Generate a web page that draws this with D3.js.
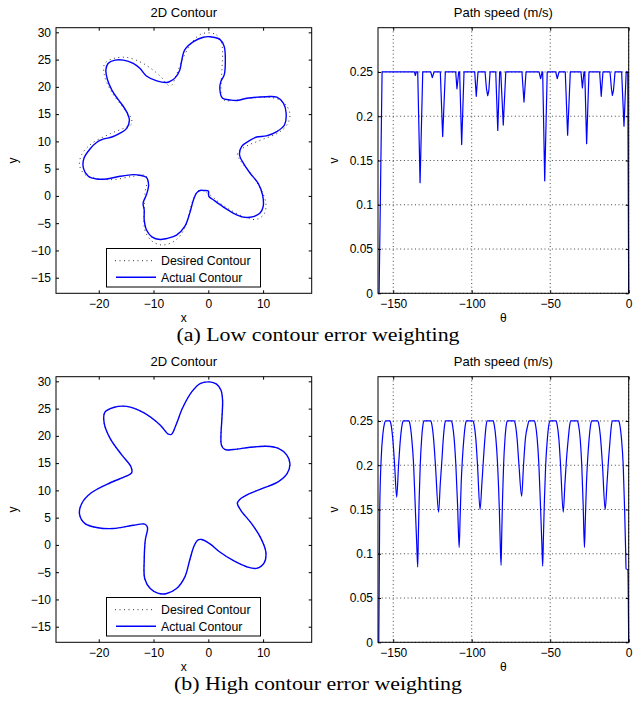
<!DOCTYPE html>
<html>
<head>
<meta charset="utf-8">
<script src="https://cdn.jsdelivr.net/npm/d3@7"></script>
<style>
  body { margin: 0; background: #fff; }
  svg text { fill: #000; }
</style>
</head>
<body>
<svg id="fig" width="644" height="704"></svg>
<script>
// ---- data ----
const contourXTicks = [-20, -10, 0, 10];
const contourYTicks = [-15, -10, -5, 0, 5, 10, 15, 20, 25, 30];
const speedXTicks = [-150, -100, -50, 0];
const speedYTicks = [0, 0.05, 0.1, 0.15, 0.2, 0.25];
const legendLabels = ["Desired Contour", "Actual Contour"];
const captions = ["(a) Low contour error weighting", "(b) High contour error weighting"];

// desired star contour [x, y]
const desiredContour = [
  [0.2,29.9],[1.5,29.5],[2.3,28.4],[2.6,26.6],[2.5,23.5],[2.3,19.8],[2.4,18.3],[3.0,17.5],
  [4.6,17.5],[7.6,17.9],[10.6,18.1],[12.8,17.7],[14.3,16.5],[14.9,14.9],[14.4,13.1],[12.8,11.6],
  [10.0,10.4],[7.3,9.3],[5.7,8.3],[5.3,7.6],[5.9,6.4],[7.9,3.9],[9.6,1.2],[10.5,-1.3],
  [10.2,-3.3],[8.8,-4.3],[7.0,-4.0],[4.6,-2.9],[2.1,-1.3],[0.3,0.2],[-1.2,1.0],[-1.9,0.9],
  [-2.6,-0.2],[-3.4,-2.8],[-4.3,-5.9],[-5.8,-8.0],[-7.6,-8.9],[-9.1,-8.9],[-10.6,-8.0],[-11.6,-6.2],
  [-11.7,-2.8],[-11.5,0.9],[-11.1,3.2],[-11.6,3.8],[-13.7,3.6],[-17.3,3.0],[-20.4,3.2],[-22.5,3.9],
  [-23.5,5.6],[-23.1,7.6],[-21.3,9.6],[-17.9,11.4],[-15.0,12.6],[-14.0,13.2],[-14.1,14.3],[-15.8,16.5],
  [-17.9,19.5],[-19.0,22.3],[-18.9,24.3],[-17.3,25.2],[-14.9,25.4],[-11.9,24.3],[-8.8,22.0],[-7.3,20.3],
  [-6.7,20.3],[-5.9,22.0],[-4.7,25.1],[-3.0,28.1],[-1.5,29.6]
];

// actual contour, low weighting
const actualContourLow = [
  [-4.9,24.6],[-4.3,26.8],[-2.7,28.3],[-0.9,29.1],[0.3,29.2],[2.1,28.7],[2.9,27.4],[3.1,24.3],
  [2.9,22.2],[2.3,21.0],[2.1,19.7],[2.6,17.9],[4.0,17.6],[5.2,17.5],[7.0,17.9],[10.6,18.2],
  [12.5,18.1],[13.7,17.0],[14.2,15.2],[13.9,13.0],[12.5,11.8],[10.6,11.0],[8.8,10.8],[7.3,10.0],
  [6.1,9.1],[5.7,7.5],[6.4,6.0],[7.6,4.2],[9.1,2.3],[9.9,0.2],[10.0,-2.0],[9.4,-3.2],
  [8.2,-3.8],[6.4,-3.9],[4.6,-3.2],[2.7,-2.0],[0.9,-0.7],[0.1,-0.1],[0.0,0.9],[-0.8,1.0],
  [-1.5,1.0],[-2.1,0.6],[-2.7,-0.7],[-3.4,-3.2],[-4.3,-5.6],[-5.8,-7.2],[-7.6,-7.8],[-8.8,-8.0],
  [-10.3,-7.5],[-11.3,-6.2],[-11.7,-4.4],[-11.7,-2.6],[-11.9,-1.3],[-11.3,0.2],[-10.9,2.0],[-11.3,3.4],
  [-12.5,3.8],[-13.7,3.9],[-16.1,3.6],[-18.6,3.1],[-20.4,3.1],[-21.9,3.6],[-22.8,5.1],[-22.7,6.9],
  [-21.6,8.6],[-20.4,9.8],[-19.2,10.4],[-17.6,10.8],[-16.1,11.5],[-14.9,12.4],[-14.4,13.9],[-14.8,15.2],
  [-15.5,16.4],[-16.4,17.6],[-17.6,19.4],[-18.4,21.3],[-18.7,23.1],[-18.3,24.3],[-17.0,24.9],[-15.5,24.9],
  [-13.7,24.3],[-12.5,23.4],[-11.3,22.0],[-9.4,21.1],[-7.6,20.8],[-7.0,21.0],[-6.1,21.6],[-5.2,23.1]
];

// with high weighting the actual path sits on the desired one
const actualContourHigh = desiredContour;

// path speed [theta, v], low weighting
const speedLow = [
  [-159.0,0],[-157.1,0.25],
  [-136.5,0.25],[-135.9,0.246],[-135.3,0.25],
  [-134.4,0.25],[-132.9,0.125],[-131.2,0.25],
  [-126.1,0.25],[-125.1,0.2436],[-124.0,0.25],
  [-120.0,0.25],[-118.5,0.177],[-116.8,0.25],
  [-110.2,0.25],[-109.4,0.231],[-108.3,0.25],
  [-107.7,0.25],[-106.4,0.168],[-104.9,0.25],
  [-98.1,0.25],[-97.1,0.2225],[-96.0,0.25],
  [-91.5,0.25],[-90.6,0.231],[-89.8,0.2233],[-89.1,0.229],[-88.3,0.25],
  [-84.7,0.25],[-83.4,0.184],[-82.2,0.25],
  [-81.5,0.25],[-79.9,0.19],[-78.3,0.25],
  [-68.0,0.25],[-66.7,0.216],[-65.4,0.25],
  [-57.1,0.25],[-56.1,0.2425],[-55.1,0.25],
  [-54.8,0.25],[-53.5,0.127],[-51.9,0.25],
  [-46.5,0.25],[-45.5,0.2425],[-44.4,0.25],
  [-40.4,0.25],[-38.9,0.1785],[-37.2,0.25],
  [-30.4,0.25],[-29.5,0.232],[-28.5,0.25],
  [-28.0,0.25],[-26.8,0.169],[-25.3,0.25],
  [-18.5,0.25],[-17.5,0.2225],[-16.4,0.25],
  [-11.9,0.25],[-11.0,0.231],[-10.4,0.2236],[-9.7,0.229],[-8.7,0.25],
  [-4.5,0.25],[-3.0,0.1887],[-1.6,0.25],
  [-0.6,0.25],[-0.15,0.06],[0,0]
];

// path speed [theta, v], high weighting
const speedHigh = [
  [-159.2,0],[-158.6,0.15],[-157.6,0.21],[-156.6,0.235],[-155.6,0.247],[-154.8,0.25],[-152.1,0.25],
  [-151.3,0.245],[-150.3,0.23],[-149.1,0.2],[-147.8,0.164],
  [-146.6,0.2],[-145.4,0.23],[-144.4,0.245],[-143.6,0.25],[-140.0,0.25],
  [-139.2,0.245],[-138.2,0.23],[-137.0,0.2],[-135.9,0.15],[-135.0,0.11],[-134.4,0.085],
  [-134.0,0.12],[-133.5,0.16],[-132.8,0.2],[-131.9,0.23],[-131.1,0.245],[-130.4,0.25],[-126.1,0.25],
  [-125.3,0.245],[-124.3,0.23],[-123.1,0.2],[-121.1,0.147],
  [-120.0,0.18],[-119.2,0.2],[-118.1,0.23],[-117.3,0.245],[-116.6,0.25],[-113.0,0.25],
  [-112.2,0.245],[-111.2,0.23],[-110.1,0.2],[-109.0,0.155],[-108.0,0.107],
  [-107.4,0.14],[-106.7,0.18],[-106.0,0.205],[-105.0,0.23],[-104.1,0.245],[-103.4,0.25],[-99.2,0.25],
  [-98.4,0.245],[-97.4,0.23],[-96.3,0.2],[-94.7,0.15],
  [-93.5,0.18],[-92.6,0.205],[-91.6,0.23],[-90.8,0.245],[-90.0,0.25],[-86.4,0.25],
  [-85.6,0.245],[-84.6,0.23],[-83.5,0.2],[-82.4,0.15],[-81.8,0.11],[-81.3,0.087],
  [-80.9,0.12],[-80.4,0.16],[-79.7,0.2],[-78.8,0.23],[-78.0,0.245],[-77.3,0.25],[-72.9,0.25],
  [-72.1,0.245],[-71.1,0.23],[-69.9,0.2],[-68.2,0.165],
  [-67.0,0.2],[-65.8,0.23],[-64.3,0.245],[-63.5,0.25],[-60.1,0.25],
  [-59.3,0.245],[-58.3,0.23],[-57.2,0.2],[-56.1,0.15],[-55.3,0.11],[-54.8,0.086],
  [-54.3,0.12],[-53.7,0.16],[-52.9,0.2],[-51.8,0.23],[-50.9,0.245],[-50.1,0.25],[-46.3,0.25],
  [-45.5,0.245],[-44.5,0.23],[-43.4,0.2],[-41.7,0.147],
  [-40.6,0.18],[-39.7,0.205],[-38.5,0.23],[-37.6,0.245],[-36.8,0.25],[-32.7,0.25],
  [-31.9,0.245],[-30.9,0.23],[-29.9,0.2],[-29.0,0.155],[-28.2,0.107],
  [-27.6,0.14],[-26.9,0.18],[-26.2,0.205],[-25.2,0.23],[-24.3,0.245],[-23.6,0.25],[-19.7,0.25],
  [-18.9,0.245],[-17.9,0.23],[-16.7,0.2],[-15.0,0.15],
  [-13.8,0.18],[-12.9,0.205],[-11.8,0.23],[-11.0,0.245],[-10.2,0.25],[-6.4,0.25],
  [-5.6,0.245],[-4.6,0.23],[-3.5,0.2],[-2.6,0.15],[-1.9,0.1],[-1.7,0.083],[-0.6,0.082],[0,0]
];

// ---- layout ----
const svg = d3.select("#fig");
const sans = '"Liberation Sans", Arial, Helvetica, sans-serif';
const serif = '"Liberation Serif", "Times New Roman", Times, serif';
const blue = "#0000ff";
const rows = [
  { top: 27.7, bottom: 293.3, actual: actualContourLow, speed: speedLow, curve: d3.curveLinear, caption: captions[0], capW: 283 },
  { top: 376.7, bottom: 642.3, actual: actualContourHigh, speed: speedHigh, curve: d3.curveMonotoneX, caption: captions[1], capW: 288 }
];
const left = { x0: 56, x1: 311.7 };
const right = { x0: 378, x1: 628.7 };

const num = d => (d < 0 ? "\u2212" + (-d) : String(d));

function ticksAround(g, x, y, xt, yt, top, bottom, x0, x1) {
  const bx = g.append("g").attr("transform", `translate(0,${bottom})`)
    .call(d3.axisBottom(x).tickValues(xt).tickSize(-3).tickPadding(6).tickFormat(num));
  const tx = g.append("g").attr("transform", `translate(0,${top})`)
    .call(d3.axisTop(x).tickValues(xt).tickSize(-3).tickFormat(""));
  const ly = g.append("g").attr("transform", `translate(${x0},0)`)
    .call(d3.axisLeft(y).tickValues(yt).tickSize(-3).tickPadding(5).tickFormat(num));
  const ry = g.append("g").attr("transform", `translate(${x1},0)`)
    .call(d3.axisRight(y).tickValues(yt).tickSize(-3).tickFormat(""));
  [bx, tx, ly, ry].forEach(a => {
    a.select(".domain").remove();
    a.selectAll("line").attr("stroke", "#000");
    a.selectAll("text").attr("font-size", 12).attr("fill", "#000").style("font-family", sans);
  });
  g.append("rect")
    .attr("x", x0).attr("y", top)
    .attr("width", x1 - x0).attr("height", bottom - top)
    .attr("fill", "none").attr("stroke", "#000").attr("stroke-width", 1);
}

function label(g, x, y, size, txt, rot) {
  return g.append("text")
    .attr("transform", `translate(${x},${y})` + (rot ? " rotate(-90)" : ""))
    .attr("text-anchor", "middle").attr("font-size", size)
    .style("font-family", sans).text(txt);
}

rows.forEach(r => {
  // ---- 2D contour ----
  const gc = svg.append("g");
  const cx = d3.scaleLinear().domain([-27.8, 18.87]).range([left.x0, left.x1]);
  const cy = d3.scaleLinear().domain([-17.86, 30.85]).range([r.bottom, r.top]);
  const contourLine = d3.line()
    .x(d => cx(d[0])).y(d => cy(d[1]))
    .curve(d3.curveCatmullRomClosed.alpha(0.5));

  gc.append("path").attr("d", contourLine(desiredContour))
    .attr("fill", "none").attr("stroke", "#333").attr("stroke-width", 1)
    .attr("stroke-dasharray", "1 3.5");
  gc.append("path").attr("d", contourLine(r.actual))
    .attr("fill", "none").attr("stroke", blue).attr("stroke-width", 1.4);

  ticksAround(gc, cx, cy, contourXTicks, contourYTicks, r.top, r.bottom, left.x0, left.x1);

  // legend
  const lg = gc.append("g").attr("transform", `translate(106.5,${r.top + 220.8})`);
  lg.append("rect").attr("width", 154).attr("height", 38.5)
    .attr("fill", "#fff").attr("stroke", "#000").attr("stroke-width", 1);
  lg.append("line").attr("x1", 8.5).attr("x2", 48.5).attr("y1", 12.2).attr("y2", 12.2)
    .attr("stroke", "#333").attr("stroke-dasharray", "1 3.5");
  lg.append("line").attr("x1", 9.5).attr("x2", 49.5).attr("y1", 28.7).attr("y2", 28.7)
    .attr("stroke", blue).attr("stroke-width", 1.4);
  lg.selectAll("text.lab").data(legendLabels).join("text")
    .attr("class", "lab")
    .attr("x", 54.5).attr("y", (d, i) => 16.2 + i * 17)
    .attr("font-size", 12.3).style("font-family", sans).text(d => d);

  label(gc, (left.x0 + left.x1) / 2, r.top - 10.4, 13, "2D Contour");
  label(gc, (left.x0 + left.x1) / 2, r.bottom + 28.5, 12, "x");
  label(gc, 17, (r.top + r.bottom) / 2, 12, "y", true);

  // ---- path speed ----
  const gs = svg.append("g");
  const sx = d3.scaleLinear().domain([-159.7, 0]).range([right.x0, right.x1]);
  const sy = d3.scaleLinear().domain([0, 0.3]).range([r.bottom, r.top]);

  gs.selectAll("line.gx").data(speedXTicks).join("line").attr("class", "gx")
    .attr("x1", d => sx(d)).attr("x2", d => sx(d)).attr("y1", r.top).attr("y2", r.bottom)
    .attr("stroke", "#444").attr("stroke-dasharray", "1 2.7");
  gs.selectAll("line.gy").data(speedYTicks).join("line").attr("class", "gy")
    .attr("x1", right.x0).attr("x2", right.x1).attr("y1", d => sy(d)).attr("y2", d => sy(d))
    .attr("stroke", "#444").attr("stroke-dasharray", "1 2.7");

  const speedLine = d3.line().x(d => sx(d[0])).y(d => sy(d[1])).curve(r.curve);
  gs.append("path").attr("d", speedLine(r.speed))
    .attr("fill", "none").attr("stroke", blue).attr("stroke-width", 1.2)
    .attr("stroke-linejoin", "round");

  ticksAround(gs, sx, sy, speedXTicks, speedYTicks, r.top, r.bottom, right.x0, right.x1);

  label(gs, (right.x0 + right.x1) / 2, r.top - 10.4, 13, "Path speed (m/s)");
  label(gs, (right.x0 + right.x1) / 2, r.bottom + 28.5, 12, "\u03b8");
  label(gs, 338, (r.top + r.bottom) / 2, 12, "v", true);

  // caption
  svg.append("text").attr("x", 318).attr("y", r.bottom + 47.5)
    .attr("text-anchor", "middle")
    .style("font-family", serif)
    .attr("font-size", 18)
    .attr("textLength", r.capW)
    .attr("lengthAdjust", "spacingAndGlyphs")
    .text(r.caption);
});
</script>
</body>
</html>
